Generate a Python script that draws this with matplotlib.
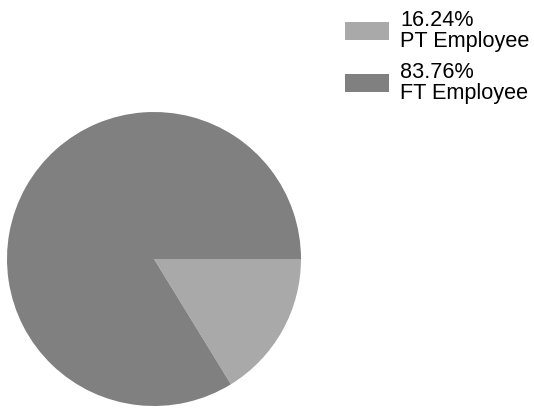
import matplotlib.pyplot as plt
from matplotlib.patches import Rectangle

# Employee split
categories = ['PT Employee', 'FT Employee']
shares = [16.24, 83.76]
colors = ['#a9a9a9', '#808080']

plt.rcParams['font.family'] = ['Liberation Sans', 'DejaVu Sans']

fig = plt.figure(figsize=(5.34, 4.10), dpi=100)
W, H = 534, 410

# pie occupies the lower left square
ax = fig.add_axes([7 / W, 3 / H, 294 / W, 294 / H])
wedges, _ = ax.pie(shares, colors=colors, startangle=0, counterclock=False,
                   radius=1.0, wedgeprops=dict(linewidth=0))
ax.set_xlim(-1, 1)
ax.set_ylim(-1, 1)
ax.set_aspect('equal')

# legend on the top right, built by hand (pixel positions from the top)
step = 52
for i, (w, v, c) in enumerate(zip(wedges, shares, categories)):
    top = 23 + step * i
    fig.patches.append(Rectangle((345 / W, 1 - (top + 18) / H), 44 / W, 18 / H,
                                 transform=fig.transFigure, facecolor=w.get_facecolor(),
                                 linewidth=0))
    fig.text(400 / W, 1 - (26 + step * i) / H, f'{v:.2f}%', fontsize=15.6,
             va='baseline', ha='left', color='black')
    fig.text(400 / W, 1 - (47 + step * i) / H, c, fontsize=15.6,
             va='baseline', ha='left', color='black')

fig.savefig('out.png', dpi=100)
